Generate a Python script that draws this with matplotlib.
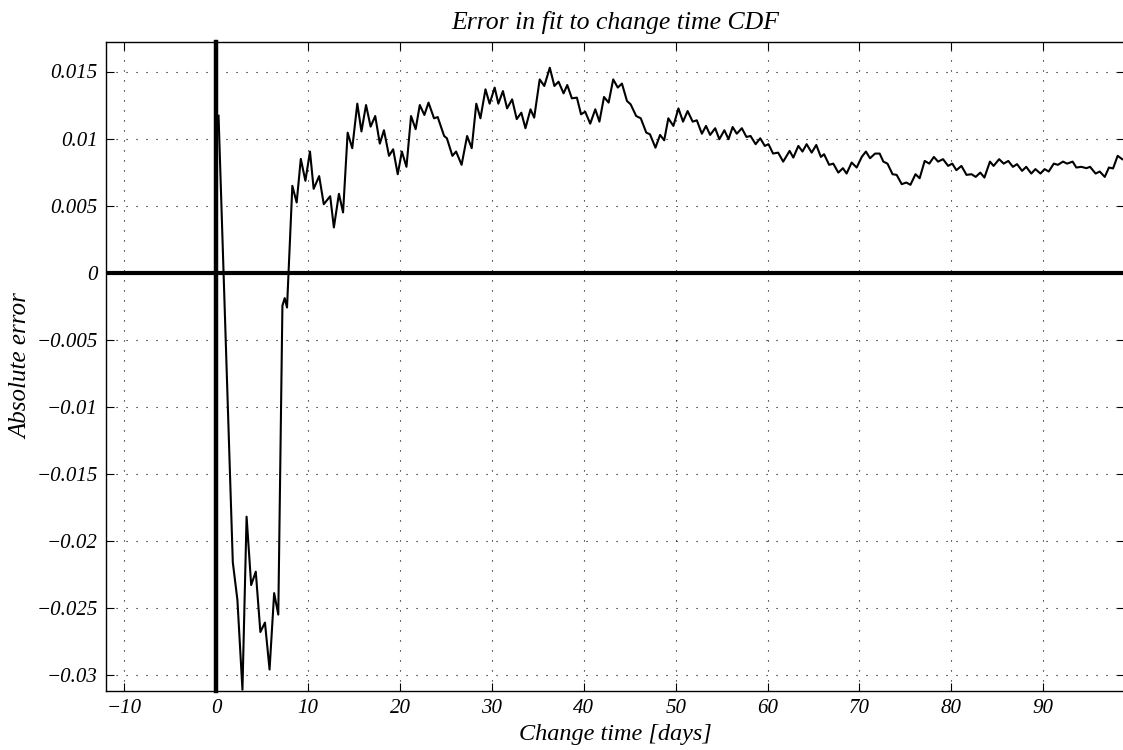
import matplotlib
matplotlib.use("Agg")
import matplotlib.pyplot as plt

# Absolute error of the fitted change-time CDF, sampled along the change time axis
days = [0.25, 1.8, 2.3, 2.85, 3.3, 3.8, 4.3, 4.8, 5.3, 5.8, 6.3, 6.75, 7.2, 7.45, 7.7,
        8.28, 8.75, 9.2, 9.7, 10.2, 10.6, 11.2, 11.7, 12.4, 12.8, 13.35, 13.8,
        14.3, 14.8, 15.35, 15.8, 16.3, 16.8, 17.3, 17.8, 18.25, 18.8, 19.25, 19.75,
        20.2, 20.7, 21.2, 21.7, 22.15, 22.65, 23.1, 23.7, 24.1, 24.8, 25.1, 25.7,
        26.1, 26.7, 27.3, 27.8, 28.3, 28.75, 29.3, 29.75, 30.3, 30.7, 31.2, 31.65,
        32.2, 32.7, 33.2, 33.65, 34.2, 34.6, 35.2, 35.7, 36.3, 36.8, 37.25, 37.8,
        38.2, 38.7, 39.25, 39.7, 40.15, 40.7, 41.25, 41.7, 42.2, 42.7, 43.2, 43.7,
        44.15, 44.7, 45.1, 45.7, 46.2, 46.8, 47.2, 47.8, 48.3, 48.75, 49.2, 49.75,
        50.3, 50.8, 51.3, 51.85, 52.3, 52.85, 53.3, 53.75, 54.3, 54.75, 55.3, 55.75,
        56.2, 56.65, 57.2, 57.7, 58.15, 58.7, 59.2, 59.7, 60.1, 60.6, 61.15, 61.7,
        62.4, 62.8, 63.35, 63.8, 64.25, 64.8, 65.3, 65.8, 66.15, 66.7, 67.15, 67.7,
        68.2, 68.6, 69.15, 69.7, 70.25, 70.7, 71.15, 71.7, 72.2, 72.6, 73.05, 73.6,
        74.05, 74.6, 75.1, 75.55, 76.1, 76.55, 77.1, 77.6, 78.1, 78.55, 79.1, 79.65,
        80.1, 80.55, 81.1, 81.65, 82.2, 82.65, 83.15, 83.6, 84.2, 84.6, 85.2, 85.7,
        86.2, 86.7, 87.15, 87.7, 88.15, 88.7, 89.15, 89.7, 90.15, 90.6, 91.15, 91.6,
        92.15, 92.6, 93.2, 93.6, 94.15, 94.7, 95.1, 95.7, 96.15, 96.7, 97.15, 97.6,
        98.1, 98.6]
abs_error = [0.0117, -0.0216, -0.0244, -0.0311, -0.0182, -0.0233, -0.0223, -0.0268,
             -0.0261, -0.0296, -0.0239, -0.0255, -0.00246, -0.0019, -0.0026,
             0.00647, 0.00523, 0.00848, 0.00685, 0.00903, 0.00625, 0.0072, 0.0051,
             0.0057, 0.00337, 0.00588, 0.00449,
             0.01044, 0.00928, 0.0126, 0.01053, 0.0125, 0.01089, 0.01168, 0.00962,
             0.01062, 0.00871, 0.0092, 0.00734, 0.00903, 0.00789, 0.01168, 0.0107,
             0.0125, 0.01176, 0.01268, 0.01151, 0.0116, 0.01019, 0.01002, 0.00871,
             0.00903, 0.00804, 0.01019, 0.00928, 0.0126, 0.01151, 0.01367, 0.0126,
             0.0138, 0.0126, 0.01354, 0.01225, 0.01292, 0.01145, 0.01193, 0.01077,
             0.01218, 0.01156, 0.01441, 0.01392, 0.01528, 0.01392, 0.01424, 0.01337,
             0.01399, 0.013, 0.01305, 0.01181, 0.012, 0.01111, 0.01218, 0.01126,
             0.0131, 0.01268, 0.01441, 0.0138, 0.0141, 0.0128, 0.01255, 0.01168,
             0.01151, 0.01044, 0.01032, 0.00932, 0.01027, 0.00987, 0.01151, 0.01094,
             0.01225, 0.01126, 0.01205, 0.01126, 0.01136, 0.01036, 0.01094, 0.01027,
             0.01077, 0.00995, 0.01062, 0.00995, 0.01086, 0.01036, 0.01077, 0.01012,
             0.01019, 0.00958, 0.01002, 0.00945, 0.00958, 0.00888, 0.00895, 0.00828,
             0.00908, 0.00858, 0.00945, 0.00903, 0.00958, 0.00895, 0.00952, 0.00863,
             0.00883, 0.00804, 0.00813, 0.00746, 0.00779, 0.00739, 0.00821, 0.00784,
             0.00863, 0.00903, 0.00853, 0.00888, 0.00888, 0.00828, 0.00813, 0.00734,
             0.00729, 0.0066, 0.00672, 0.00655, 0.00734, 0.00704, 0.00833, 0.00813,
             0.00863, 0.00828, 0.00846, 0.00796, 0.00813, 0.00764, 0.00796, 0.00729,
             0.00734, 0.00714, 0.00746, 0.00709, 0.00828, 0.00796, 0.00846, 0.00813,
             0.00833, 0.00789, 0.00809, 0.00759, 0.00789, 0.00739, 0.00772, 0.00739,
             0.00772, 0.00754, 0.00813, 0.00804, 0.00828, 0.00813, 0.00828, 0.00784,
             0.00789, 0.00779, 0.00789, 0.00739, 0.00754, 0.00714, 0.00784, 0.00777,
             0.00871, 0.00846]

x_ticks = [-10, 0, 10, 20, 30, 40, 50, 60, 70, 80, 90]
x_tick_labels = ["\u221210", "0", "10", "20", "30", "40", "50", "60", "70", "80", "90"]
y_ticks = [0.015, 0.01, 0.005, 0, -0.005, -0.01, -0.015, -0.02, -0.025, -0.03]
y_tick_labels = ["0.015", "0.01", "0.005", "0", "\u22120.005", "\u22120.01",
                 "\u22120.015", "\u22120.02", "\u22120.025", "\u22120.03"]

plt.rcParams["font.family"] = ["Liberation Serif", "DejaVu Serif"]
plt.rcParams["font.style"] = "italic"

fig = plt.figure(figsize=(11.23, 7.5), dpi=100)
ax = fig.add_axes([106 / 1123, 59 / 750, 1019 / 1123, 649 / 750])

# zero reference axes
ax.axhline(0, color="black", linewidth=3.0, zorder=3)
ax.axvline(0, color="black", linewidth=3.2, zorder=3, clip_on=False)

ax.plot(days, abs_error, color="black", linewidth=1.5, zorder=4)

ax.set_xlim(-12, 98.9)
ax.set_ylim(-0.0312, 0.0172)
ax.set_xticks(x_ticks)
ax.set_xticklabels(x_tick_labels)
ax.set_yticks(y_ticks)
ax.set_yticklabels(y_tick_labels)

ax.grid(True, color="black", linestyle=(0, (1, 8)), linewidth=0.8)
ax.tick_params(direction="in", top=True, right=True, length=6, width=0.8,
               labelsize=15, pad=6)
for s in ax.spines.values():
    s.set_linewidth(1.0)

ax.set_title("Error in fit to change time CDF", fontsize=18.5, style="italic", pad=9)
ax.set_xlabel("Change time [days]", fontsize=17.5, style="italic", labelpad=4)
ax.set_ylabel("Absolute error", fontsize=18, style="italic", labelpad=3)

fig.savefig("out.png", dpi=100)
